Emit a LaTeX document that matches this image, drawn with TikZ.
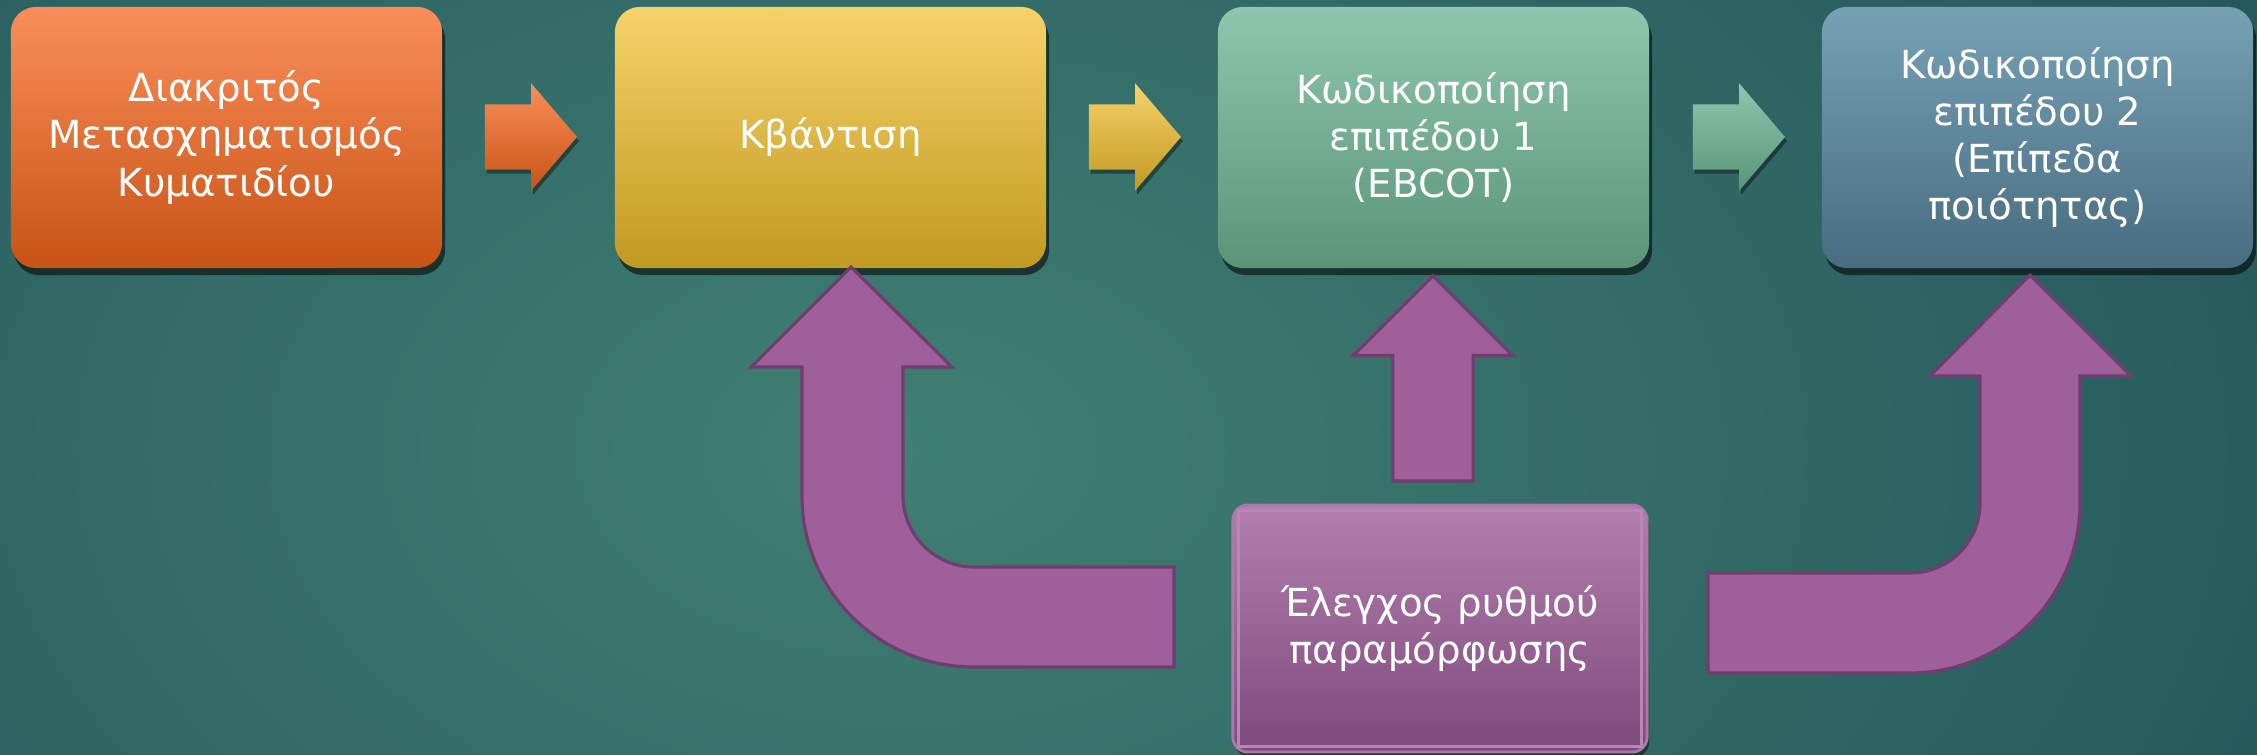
\documentclass[tikz,border=0pt]{standalone}
\usepackage{fontspec}
\setmainfont{DejaVu Sans}
\usepackage{tikz}
\usetikzlibrary{shapes.arrows,shadows}
\definecolor{bgin}{RGB}{64,127,115}
\definecolor{bgout}{RGB}{20,62,77}
\definecolor{dwttop}{RGB}{250,142,90}
\definecolor{dwtbot}{RGB}{199,83,20}
\definecolor{qtop}{RGB}{246,210,106}
\definecolor{qbot}{RGB}{194,153,33}
\definecolor{tonetop}{RGB}{143,198,174}
\definecolor{tonebot}{RGB}{89,148,121}
\definecolor{ttwotop}{RGB}{118,161,181}
\definecolor{ttwobot}{RGB}{72,108,128}
\definecolor{rctop}{RGB}{178,127,174}
\definecolor{rcbot}{RGB}{126,74,124}
\definecolor{rcline}{RGB}{185,135,182}
\definecolor{arrowpurple}{RGB}{158,95,154}
\definecolor{arrowedge}{RGB}{112,62,110}

\begin{document}
\begin{tikzpicture}[x=0.01cm,y=-0.01cm,
  blockbox/.style={rounded corners=0.25cm,minimum width=4.31cm,minimum height=2.61cm,
    inner sep=0pt,text=white,align=center,font=\fontsize{11}{13.4}\selectfont,
    drop shadow={shadow xshift=0.03cm,shadow yshift=-0.07cm,opacity=0.55,fill=black}},
  steparrow/.style={single arrow,minimum height=0.92cm,minimum width=1.06cm,
    single arrow head extend=0.21cm,single arrow tip angle=99,
    single arrow head indent=0pt,inner xsep=0pt,inner ysep=0.32cm,
    drop shadow={shadow xshift=0.02cm,shadow yshift=-0.04cm,opacity=0.4,fill=black}},
  ratearrow/.style={fill=arrowpurple,draw=arrowedge,line width=0.9pt,line join=miter}]

  % φόντο
  \useasboundingbox (0,0) rectangle (2257,754);
  \begin{scope}
    \clip (0,0) rectangle (2257,754);
    \shade[inner color=bgin,outer color=bgout] (-1600,-1150) rectangle (3400,2050);
  \end{scope}

  % τα τέσσερα στάδια
  \node[blockbox,top color=dwttop,bottom color=dwtbot] (DWT) at (226.5,137.5)
    {Διακριτός\\Μετασχηματισμός\\Κυματιδίου};
  \node[blockbox,top color=qtop,bottom color=qbot] (Q) at (830.5,137.5) {Κβάντιση};
  \node[blockbox,top color=tonetop,bottom color=tonebot] (T1) at (1433.5,137.5)
    {Κωδικοποίηση\\επιπέδου 1\\(EBCOT)};
  \node[blockbox,top color=ttwotop,bottom color=ttwobot] (T2) at (2037.5,137.5)
    {Κωδικοποίηση\\επιπέδου 2\\(Επίπεδα\\ποιότητας)};

  % βέλη ανάμεσα στα στάδια
  \node[steparrow,top color=dwttop,bottom color=dwtbot] (a1) at (517,137) {};
  \node[steparrow,top color=qtop,bottom color=qbot] (a2) at (1121,137) {};
  \node[steparrow,top color=tonetop,bottom color=tonebot] (a3) at (1725,137) {};

  % έλεγχος ρυθμού
  \node[rounded corners=0.15cm,minimum width=4.14cm,minimum height=2.47cm,inner sep=0pt,
        top color=rctop,bottom color=rcbot,draw=arrowpurple!85!white,line width=0.8pt,
        text=white,align=center,font=\fontsize{11}{13.6}\selectfont,
        drop shadow={shadow xshift=0.02cm,shadow yshift=-0.05cm,opacity=0.45,fill=black}]
    (RC) at (1440,628.5) {Έλεγχος ρυθμού\\παραμόρφωσης};
  \draw[rcline,line width=0.6pt] ([shift={(7,7)}]RC.north west) rectangle ([shift={(-7,-7)}]RC.south east);

  % μωβ βέλη
  \node[single arrow,shape border rotate=90,minimum height=2.05cm,minimum width=1.56cm,
        single arrow head extend=0.395cm,single arrow head indent=0pt,
        inner xsep=0.385cm,inner ysep=0pt,ratearrow] (up) at (1433,398.5) {};
  \draw[ratearrow] (851,267) -- (952,367) -- (903,367) -- (903,496)
    .. controls (903,535) and (935,567) .. (974,567) -- (1174,567) -- (1174,667)
    -- (974,667) .. controls (879,667) and (802,591) .. (802,496)
    -- (802,367) -- (751,367) -- cycle;
  \draw[ratearrow] (2030,275) -- (2131,376) -- (2080,376) -- (2080,503)
    .. controls (2080,597) and (2004,673) .. (1910,673) -- (1708,673) -- (1708,573)
    -- (1910,573) .. controls (1949,573) and (1980,542) .. (1980,503)
    -- (1980,376) -- (1930,376) -- cycle;
\end{tikzpicture}
\end{document}
